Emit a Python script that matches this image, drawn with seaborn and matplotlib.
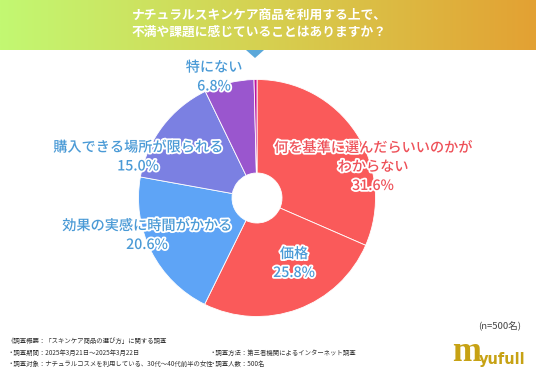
import numpy as np
import matplotlib
matplotlib.use("Agg")
import matplotlib.pyplot as plt
import matplotlib.patheffects as pe
from matplotlib.colors import LinearSegmentedColormap
from matplotlib.patches import Polygon
import seaborn as sns

# ---- data ----
categories = ["何を基準に選んだらいいのかが\nわからない", "価格", "効果の実感に時間がかかる",
              "購入できる場所が限られる", "特にない", "その他"]
values = [31.6, 25.8, 20.6, 15.0, 6.8, 0.4]
value_labels = ["31.6%", "25.8%", "20.6%", "15.0%", "6.8%", ""]
title_lines = ["ナチュラルスキンケア商品を利用する上で、", "不満や課題に感じていることはありますか？"]
n_label = "(n=500名)"
footer_left = ["《調査概要：「スキンケア商品の選び方」に関する調査",
               "・調査期間：2025年3月21日～2025年3月22日",
               "・調査対象：ナチュラルコスメを利用している、30代～40代前半の女性"]
footer_right = ["・調査方法：第三者機関によるインターネット調査", "・調査人数：500名"]

sns.set_theme(style="white")
plt.rcParams['font.family'] = ['Noto Sans CJK JP', 'DejaVu Sans']

slice_colors = ["#FA5A5A", "#FA5A5A", "#5EA4F6", "#7B80E2", "#9A56CE", "#C0139C"]
label_colors = ["#EE5058", "#4A9AD6", "#4A9AD6", "#4A9AD6", "#4A9AD6", "#4A9AD6"]

W, H = 536, 371
fig = plt.figure(figsize=(W / 100, H / 100), dpi=100)
fig.patch.set_facecolor("white")

# pie axes
cx, cy, r = 257, 198, 118.5
ax = fig.add_axes([(cx - r) / W, (H - cy - r) / H, 2 * r / W, 2 * r / H])
ax.pie(values, colors=slice_colors, startangle=90, counterclock=False, radius=1,
       wedgeprops=dict(width=1 - 25 / r, edgecolor="white", linewidth=0.6))
ax.set_xlim(-1, 1)
ax.set_ylim(-1, 1)
ax.axis("off")
ax.set_zorder(1)

# overlay axes in pixel coordinates
bg = fig.add_axes([0, 0, 1, 1])
bg.set_zorder(2)
bg.patch.set_alpha(0)
bg.axis("off")

grad = np.linspace(0, 1, 256).reshape(1, -1)
cmap = LinearSegmentedColormap.from_list("hdr", ["#C2F872", "#D6D050", "#E3A133"])
bg.imshow(grad, cmap=cmap, extent=[0, W, 50, 0], aspect="auto", zorder=0)
bg.add_patch(Polygon([[246, 50], [264, 50], [255, 58]], closed=True,
                     facecolor="#5BA8DA", edgecolor="none", zorder=1))
bg.set_xlim(0, W)
bg.set_ylim(H, 0)

for i, line in enumerate(title_lines):
    bg.text(259, 15 + i * 17.5, line, color="white", fontsize=9.2, fontweight="bold",
            ha="center", va="center", zorder=3)

# label positions (pixel coords of text block centres)
label_pos = [(373, 167), (294, 263.5), (147, 235.5), (138, 157), (214, 77)]
stroke = [pe.withStroke(linewidth=2.6, foreground="white")]
for i, (px, py) in enumerate(label_pos):
    txt = categories[i] + "\n" + value_labels[i]
    bg.text(px, py, txt, color=label_colors[i], fontsize=10.2, fontweight="medium",
            ha="center", va="center", multialignment="center", linespacing=1.45,
            path_effects=stroke, zorder=5)

# footer
bg.text(521, 326, n_label, fontsize=6.8, color="#444444", ha="right", va="center")
for i, line in enumerate(footer_left):
    bg.text(8, 341 + i * 11.5, line, fontsize=4.6, color="#333333", ha="left", va="center")
for i, line in enumerate(footer_right):
    bg.text(209, 352.5 + i * 11.5, line, fontsize=4.6, color="#333333", ha="left", va="center")

# logo
bg.text(452, 369, "m", fontsize=25, color="#C7A214", family="Liberation Serif",
        fontweight="bold", ha="left", va="bottom")
bg.text(479, 364, "yufull", fontsize=10.5, color="#C7A214", family="DejaVu Sans",
        fontweight="bold", ha="left", va="baseline")

fig.savefig("out.png", dpi=100, facecolor="white")
